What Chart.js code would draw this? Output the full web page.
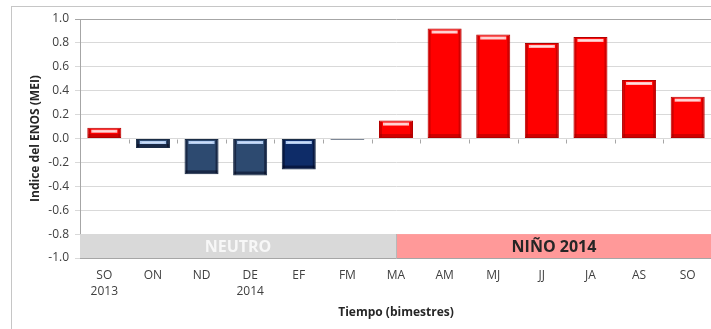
<!DOCTYPE html>
<html>
<head>
<meta charset="utf-8">
<script src="https://cdn.jsdelivr.net/npm/chart.js@4/dist/chart.umd.min.js"></script>
<style>
  html, body { margin: 0; padding: 0; background: #ffffff; overflow: hidden; }
  body { width: 711px; height: 329px; position: relative; }
  #frame { position: absolute; left: 11px; top: 6px; width: 760px; height: 400px;
           border-left: 1px solid #c6c6c6; border-top: 1px solid #c6c6c6; box-sizing: border-box; }
  #wrap { position: absolute; left: 0; top: 0; width: 716px; height: 329px; }
</style>
</head>
<body>
<div id="frame"></div>
<div id="wrap"><canvas id="chart"></canvas></div>
<script>
// Bimonthly periods (two-month windows) and the MEI index for each
const periods = [['SO', '2013'], 'ON', 'ND', ['DE', '2014'], 'EF', 'FM', 'MA', 'AM', 'MJ', 'JJ', 'JA', 'AS', 'SO'];
const meiValues = [0.09, -0.08, -0.30, -0.31, -0.26, -0.01, 0.15, 0.92, 0.87, 0.80, 0.85, 0.49, 0.35];
const yTicks = [-1.0, -0.8, -0.6, -0.4, -0.2, 0.0, 0.2, 0.4, 0.6, 0.8, 1.0];

// ENSO phases shown as a strip along the bottom of the plot
const phaseNames = ['NEUTRO', 'NIÑO 2014'];
const phaseStartIndex = [-0.5, 6];   // the phase change falls on MA
const phaseBand = [-1.0, -0.8];

const FONT = '"Open Sans", "Liberation Sans", sans-serif';

const fills = meiValues.map((v, i) => v >= 0 ? '#ff0000' : (i === 4 ? '#0e2c68' : '#2d4a70'));
const edges = meiValues.map((v, i) => v >= 0 ? '#b40000' : '#1a2c46');

// Strip with the phase names, drawn under the bars
const phaseStrip = {
  id: 'phaseStrip',
  beforeDatasetsDraw(chart) {
    const { ctx, chartArea, scales: { x, y } } = chart;
    const yTop = y.getPixelForValue(phaseBand[1]);
    const yBot = y.getPixelForValue(phaseBand[0]);
    const colors = ['#d9d9d9', '#ff9999'];
    const textColors = ['#f7f7f7', '#262626'];
    ctx.save();
    phaseNames.forEach((name, k) => {
      const x0 = k === 0 ? chartArea.left : x.getPixelForValue(phaseStartIndex[k]);
      const x1 = k + 1 < phaseNames.length ? x.getPixelForValue(phaseStartIndex[k + 1]) : chartArea.right;
      ctx.fillStyle = colors[k];
      ctx.fillRect(x0, yTop, x1 - x0, yBot - yTop);
      ctx.fillStyle = textColors[k];
      ctx.font = 'bold 16px ' + FONT;
      ctx.textAlign = 'center';
      ctx.textBaseline = 'middle';
      ctx.fillText(name, (x0 + x1) / 2, (yTop + yBot) / 2 + 1);
    });
    // divider between phases
    ctx.strokeStyle = '#b8b8b8';
    ctx.lineWidth = 1;
    const xd = Math.round(x.getPixelForValue(phaseStartIndex[1])) + 0.5;
    ctx.beginPath(); ctx.moveTo(xd, yTop); ctx.lineTo(xd, yBot); ctx.stroke();
    // small tick marks on the zero line between categories
    const y0 = Math.round(y.getPixelForValue(0)) + 0.5;
    ctx.strokeStyle = '#a6a6a6';
    for (let i = 0; i < periods.length - 1; i++) {
      const xt = Math.round((x.getPixelForValue(i) + x.getPixelForValue(i + 1)) / 2) + 0.5;
      ctx.beginPath(); ctx.moveTo(xt, y0); ctx.lineTo(xt, y0 + 4); ctx.stroke();
    }
    ctx.restore();
  }
};

// Bevelled look for each bar
const bevel = {
  id: 'bevel',
  afterDatasetsDraw(chart) {
    const { ctx } = chart;
    const meta = chart.getDatasetMeta(0);
    ctx.save();
    meta.data.forEach((el, i) => {
      const { x, y, base, width } = el.getProps(['x', 'y', 'base', 'width'], true);
      const left = x - width / 2, right = x + width / 2;
      const top = Math.min(y, base), bottom = Math.max(y, base);
      const h = bottom - top;
      if (h < 6) return;
      const pos = meiValues[i] >= 0;
      const dark = pos ? 'rgba(150,0,0,0.45)' : 'rgba(0,0,20,0.45)';
      const light = pos ? 'rgba(255,205,205,0.95)' : 'rgba(185,210,245,0.95)';
      // darker sides and bottom
      ctx.fillStyle = dark;
      ctx.fillRect(left + 1, top + 1, 2, h - 2);
      ctx.fillRect(right - 3, top + 1, 2, h - 2);
      ctx.fillRect(left + 1, bottom - 4, width - 2, 3);
      // light stripe near the top edge
      ctx.fillStyle = light;
      ctx.fillRect(left + 4, top + 2, width - 8, 3);
      ctx.fillStyle = pos ? 'rgba(255,255,255,0.5)' : 'rgba(255,255,255,0.35)';
      ctx.fillRect(left + 6, top + 3, width - 12, 1);
    });
    ctx.restore();
  }
};

new Chart(document.getElementById('chart'), {
  type: 'bar',
  data: {
    labels: periods,
    datasets: [{
      data: meiValues,
      backgroundColor: fills,
      borderColor: edges,
      borderWidth: 1,
      borderSkipped: false,
      barPercentage: 0.7,
      categoryPercentage: 1.0
    }]
  },
  options: {
    responsive: true,
    maintainAspectRatio: false,
    animation: false,
    layout: { padding: { left: 23, top: 19, right: 4, bottom: 0 } },
    plugins: { legend: { display: false }, tooltip: { enabled: false } },
    scales: {
      x: {
        grid: { display: false, drawTicks: false },
        border: { display: true, color: '#a6a6a6' },
        ticks: {
          color: '#404040',
          padding: 9,
          maxRotation: 0,
          autoSkip: false,
          font: { family: FONT, size: 12, lineHeight: 1.35 }
        },
        title: {
          display: true,
          text: 'Tiempo (bimestres)',
          color: '#262626',
          font: { family: FONT, size: 12, weight: 'bold', lineHeight: 1.35 },
          padding: { top: 4, bottom: 8 }
        },
        afterFit(scale) { scale.height = 71; }
      },
      y: {
        min: -1.0,
        max: 1.0,
        afterBuildTicks(scale) { scale.ticks = yTicks.map(v => ({ value: v })); },
        grid: {
          color: ctx => (ctx.tick && ctx.tick.value === 1 ? '#a6a6a6' : '#d9d9d9'),
          tickLength: 5,
          drawTicks: true
        },
        border: { display: true, color: '#a6a6a6' },
        ticks: {
          color: '#404040',
          padding: 6,
          font: { family: FONT, size: 12 },
          callback: v => Number(v).toFixed(1)
        },
        title: {
          display: true,
          text: 'Indice del ENOS (MEI)',
          color: '#262626',
          font: { family: FONT, size: 12, weight: 'bold', lineHeight: 1.35 },
          padding: { top: 4, bottom: 4 }
        },
        afterFit(scale) { scale.width = 57; }
      }
    }
  },
  plugins: [phaseStrip, bevel]
});
</script>
</body>
</html>
